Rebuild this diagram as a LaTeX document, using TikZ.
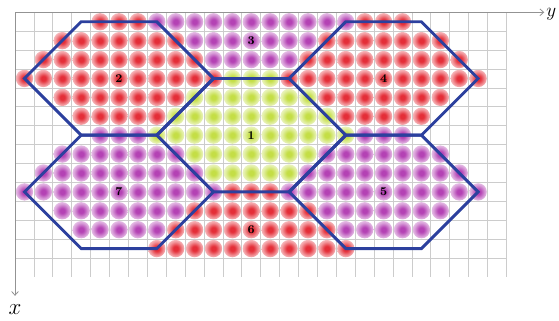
\documentclass[tikz,border=0pt]{standalone}
\usetikzlibrary{arrows.meta}

\definecolor{dotred}{RGB}{228,46,56}
\definecolor{dotpurple}{RGB}{180,66,180}
\definecolor{dotgreen}{RGB}{196,222,70}
\definecolor{hexblue}{RGB}{44,64,158}

\pgfdeclareradialshading{redball}{\pgfpoint{0bp}{0bp}}{color(0bp)=(dotred); color(7bp)=(dotred); color(20bp)=(dotred!50!white); color(34bp)=(dotred!12!white); color(50bp)=(white)}
\pgfdeclareradialshading{purpleball}{\pgfpoint{0bp}{0bp}}{color(0bp)=(dotpurple); color(7bp)=(dotpurple); color(20bp)=(dotpurple!50!white); color(34bp)=(dotpurple!12!white); color(50bp)=(white)}
\pgfdeclareradialshading{greenball}{\pgfpoint{0bp}{0bp}}{color(0bp)=(dotgreen); color(7bp)=(dotgreen); color(20bp)=(dotgreen!50!white); color(34bp)=(dotgreen!12!white); color(50bp)=(white)}

\begin{document}
\begin{tikzpicture}[
    x=0.5cm, y=-0.5cm,
    gridline/.style={gray!40, line width=0.6pt},
    axis/.style={gray!85, line width=0.6pt, -{Straight Barb[length=1mm, width=1.8mm]}},
    hexline/.style={hexblue, line width=2.2pt},
    numlabel/.style={font=\small\bfseries, inner sep=0pt}
]
\useasboundingbox (-0.794,-0.651) rectangle (28.78,16.28);

% hexagon centres
\coordinate (h1) at (12.5,6.5);
\coordinate (h2) at (5.5,3.5);
\coordinate (h3) at (12.5,0.5);
\coordinate (h4) at (19.5,3.5);
\coordinate (h5) at (19.5,9.5);
\coordinate (h6) at (12.5,12.5);
\coordinate (h7) at (5.5,9.5);

% dots of each cell
\begin{scope}
\clip (0,0) rectangle (26,13);
\foreach \hc/\ball in {h1/greenball, h2/redball, h3/purpleball, h4/redball, h5/purpleball, h6/redball, h7/purpleball}
  \foreach \dy/\w in {-3/1, -2/3, -1/4, 0/5, 1/3, 2/2}
    \foreach \dx in {-\w,...,\w}
      \shade[shading=\ball] ([shift={(\dx,\dy)}]\hc) circle[radius=0.46];
\end{scope}

% grid
\foreach \i in {1,...,26}
  \draw[gridline] (\i,0) -- (\i,14);
\foreach \j in {1,...,13}
  \draw[gridline] (0,\j) -- (26,\j);

% axes
\coordinate (o) at (0,0);
\coordinate (yend) at (28,0);
\coordinate (xend) at (0,15);
\draw[axis] (o) -- (yend);
\draw[axis] (o) -- (xend);
\node[font=\Large, inner sep=0pt, anchor=west] (ylab) at (28.1,0.1) {$y$};
\node[font=\LARGE] (xlab) at (0,15.75) {$x$};

% hexagon outlines
\foreach \hc in {h1, h2, h4, h5, h7}
  \draw[hexline] (\hc) ++(-5,0) -- ++(3,-3) -- ++(4,0) -- ++(3,3) -- ++(-3,3) -- ++(-4,0) -- cycle;

% cell numbers
\node[numlabel] (n1) at (h1) {1};
\node[numlabel] (n2) at (h2) {2};
\node[numlabel] (n3) at (12.5,1.5) {3};
\node[numlabel] (n4) at (h4) {4};
\node[numlabel] (n5) at (h5) {5};
\node[numlabel] (n6) at (12.5,11.5) {6};
\node[numlabel] (n7) at (h7) {7};
\end{tikzpicture}
\end{document}
